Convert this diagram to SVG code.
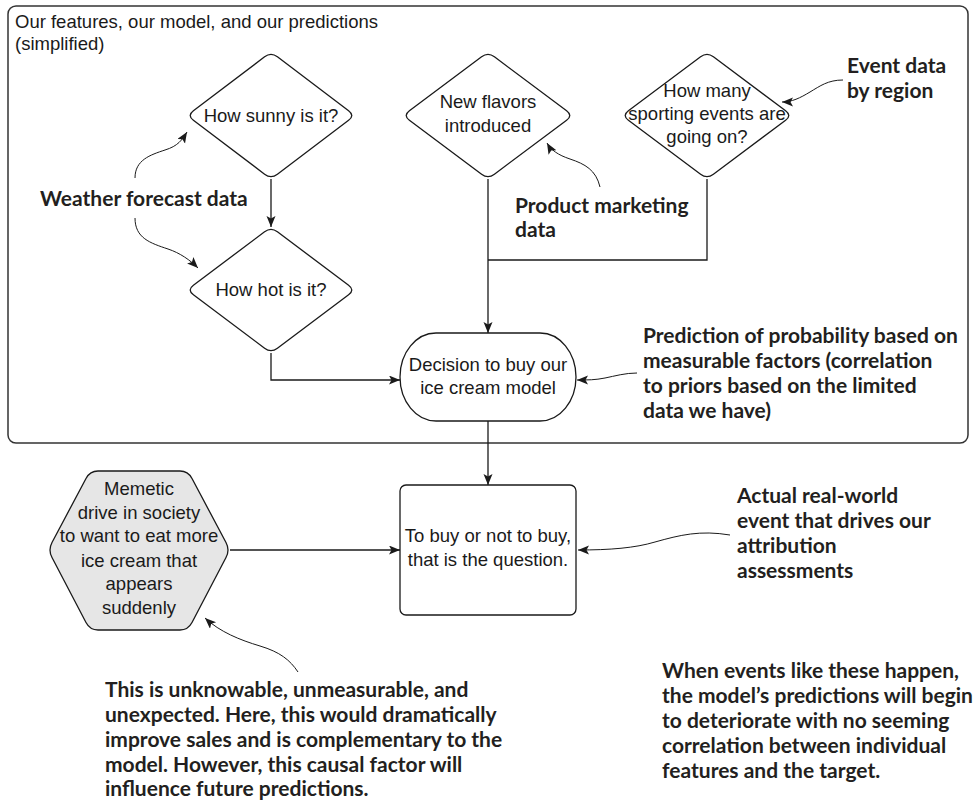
<svg xmlns="http://www.w3.org/2000/svg" width="974" height="802" viewBox="0 0 974 802">
  <style>
    .node-text { font-family: "Liberation Sans", Arial, sans-serif; font-size: 18.5px; fill: #1a1a1a; text-anchor: middle; }
    .title { font-family: "Liberation Sans", Arial, sans-serif; font-size: 18.5px; fill: #1a1a1a; }
    .note { font-family: Lato, "Open Sans", sans-serif; font-weight: bold; font-size: 21px; fill: #231f20; }
    .shape { fill: #ffffff; stroke: #1a1a1a; stroke-width: 1.3; }
    .edge { fill: none; stroke: #1a1a1a; stroke-width: 1.3; marker-end: url(#arrow); }
    .plain { fill: none; stroke: #1a1a1a; stroke-width: 1.3; }
    .curve { fill: none; stroke: #1a1a1a; stroke-width: 1; marker-end: url(#arrow); }
  </style>
  <defs>
    <marker id="arrow" markerUnits="userSpaceOnUse" markerWidth="12" markerHeight="10" refX="11" refY="4.5" orient="auto">
      <path d="M0,0 L11,4.5 L0,9 L2.5,4.5 Z" fill="#1a1a1a"/>
    </marker>
  </defs>

  <!-- model boundary -->
  <g id="model-frame">
    <rect x="8" y="6" width="960" height="437" rx="8" fill="#ffffff" stroke="#333333" stroke-width="1.5"/>
    <text class="title" x="15" y="28">Our features, our model, and our predictions</text>
    <text class="title" x="15" y="50">(simplified)</text>
  </g>

  <!-- connectors -->
  <g id="connectors">
    <path class="edge" d="M271,179 L271,227"/>
    <path class="edge" d="M271,353 L271,380 L400,380"/>
    <path class="edge" d="M488,179 L488,333"/>
    <path class="plain" d="M707,179 L707,260 L488,260"/>
    <path class="edge" d="M488,421 L488,485"/>
    <path class="edge" d="M230,550 L400,550"/>
    <!-- annotation pointers -->
    <path class="curve" d="M135,178 C135,160 150,155 165,150 C178,146 182,140 187,132"/>
    <path class="curve" d="M135,218 C135,238 150,243 168,249 C180,253 190,260 198,268"/>
    <path class="curve" d="M600,187 C596,170 585,164 570,159 C558,155 551,150 547,143"/>
    <path class="curve" d="M843,80 C828,80 820,86 810,92 C800,98 792,102 782,102"/>
    <path class="curve" d="M637,373 C625,373 615,376 605,378 C595,380 588,380 577,380"/>
    <path class="curve" d="M730,535 C700,530 680,535 655,542 C635,548 610,550 578,550"/>
    <path class="curve" d="M298,672 C290,660 280,652 260,646 C240,640 220,632 205,618"/>
  </g>

  <!-- feature nodes -->
  <g id="how-sunny">
    <path class="shape" d="M264.6,56.8 Q271,52 277.4,56.8 L348.6,110.7 Q355,115.5 348.6,120.3 L277.4,174.2 Q271,179 264.6,174.2 L193.4,120.3 Q187,115.5 193.4,110.7 Z"/>
    <text class="node-text" x="271" y="122">How sunny is it?</text>
  </g>
  <g id="how-hot">
    <path class="shape" d="M264.6,231.8 Q271,227 277.4,231.8 L348.6,285.2 Q355,290 348.6,294.8 L277.4,348.2 Q271,353 264.6,348.2 L193.4,294.8 Q187,290 193.4,285.2 Z"/>
    <text class="node-text" x="271" y="296">How hot is it?</text>
  </g>
  <g id="new-flavors">
    <path class="shape" d="M481.6,56.8 Q488,52 494.4,56.8 L566.6,110.7 Q573,115.5 566.6,120.3 L494.4,174.2 Q488,179 481.6,174.2 L409.4,120.3 Q403,115.5 409.4,110.7 Z"/>
    <text class="node-text" x="488" y="108">New flavors</text>
    <text class="node-text" x="488" y="132">introduced</text>
  </g>
  <g id="sporting-events">
    <path class="shape" d="M700.6,56.8 Q707,52 713.4,56.8 L785.6,110.7 Q792,115.5 785.6,120.3 L713.4,174.2 Q707,179 700.6,174.2 L628.4,120.3 Q622,115.5 628.4,110.7 Z"/>
    <text class="node-text" x="707" y="97">How many</text>
    <text class="node-text" x="707" y="120">sporting events are</text>
    <text class="node-text" x="707" y="143">going on?</text>
  </g>

  <!-- model node -->
  <g id="decision-model">
    <rect class="shape" x="400" y="333" width="176" height="88" rx="36" ry="44"/>
    <text class="node-text" x="488" y="371">Decision to buy our</text>
    <text class="node-text" x="488" y="394">ice cream model</text>
  </g>

  <!-- outcome node -->
  <g id="buy-or-not">
    <rect class="shape" x="400" y="485" width="176" height="130" rx="6"/>
    <text class="node-text" x="488" y="542">To buy or not to buy,</text>
    <text class="node-text" x="488" y="566">that is the question.</text>
  </g>

  <!-- unmeasured external driver -->
  <g id="memetic-drive">
    <path d="M52,542.5 L86,478.5 Q90,471 98,471 L180,471 Q188,471 192,478.5 L226,542.5 Q230,550 226,557.5 L192,622.5 Q188,630 180,630 L98,630 Q90,630 86,622.5 L52,557.5 Q48,550 52,542.5 Z" fill="#e6e6e6" stroke="#1a1a1a" stroke-width="1.3"/>
    <text class="node-text" x="139" y="495">Memetic</text>
    <text class="node-text" x="139" y="519">drive in society</text>
    <text class="node-text" x="139" y="542">to want to eat more</text>
    <text class="node-text" x="139" y="567">ice cream that</text>
    <text class="node-text" x="139" y="590">appears</text>
    <text class="node-text" x="139" y="614">suddenly</text>
  </g>

  <!-- annotations -->
  <g id="note-weather">
    <text class="note" x="40" y="206">Weather forecast data</text>
  </g>
  <g id="note-marketing">
    <text class="note" x="515" y="213">Product marketing</text>
    <text class="note" x="515" y="237">data</text>
  </g>
  <g id="note-events">
    <text class="note" x="847" y="73">Event data</text>
    <text class="note" x="847" y="98">by region</text>
  </g>
  <g id="note-prediction">
    <text class="note" x="643" y="343">Prediction of probability based on</text>
    <text class="note" x="643" y="368">measurable factors (correlation</text>
    <text class="note" x="643" y="393">to priors based on the limited</text>
    <text class="note" x="643" y="418">data we have)</text>
  </g>
  <g id="note-actual">
    <text class="note" x="737" y="503">Actual real-world</text>
    <text class="note" x="737" y="528">event that drives our</text>
    <text class="note" x="737" y="553">attribution</text>
    <text class="note" x="737" y="578">assessments</text>
  </g>
  <g id="note-unknowable">
    <text class="note" x="105" y="697">This is unknowable, unmeasurable, and</text>
    <text class="note" x="105" y="722">unexpected. Here, this would dramatically</text>
    <text class="note" x="105" y="747">improve sales and is complementary to the</text>
    <text class="note" x="105" y="772">model. However, this causal factor will</text>
    <text class="note" x="105" y="796">influence future predictions.</text>
  </g>
  <g id="note-deterioration">
    <text class="note" x="662" y="678">When events like these happen,</text>
    <text class="note" x="662" y="703">the model’s predictions will begin</text>
    <text class="note" x="662" y="728">to deteriorate with no seeming</text>
    <text class="note" x="662" y="753">correlation between individual</text>
    <text class="note" x="662" y="778">features and the target.</text>
  </g>
</svg>
